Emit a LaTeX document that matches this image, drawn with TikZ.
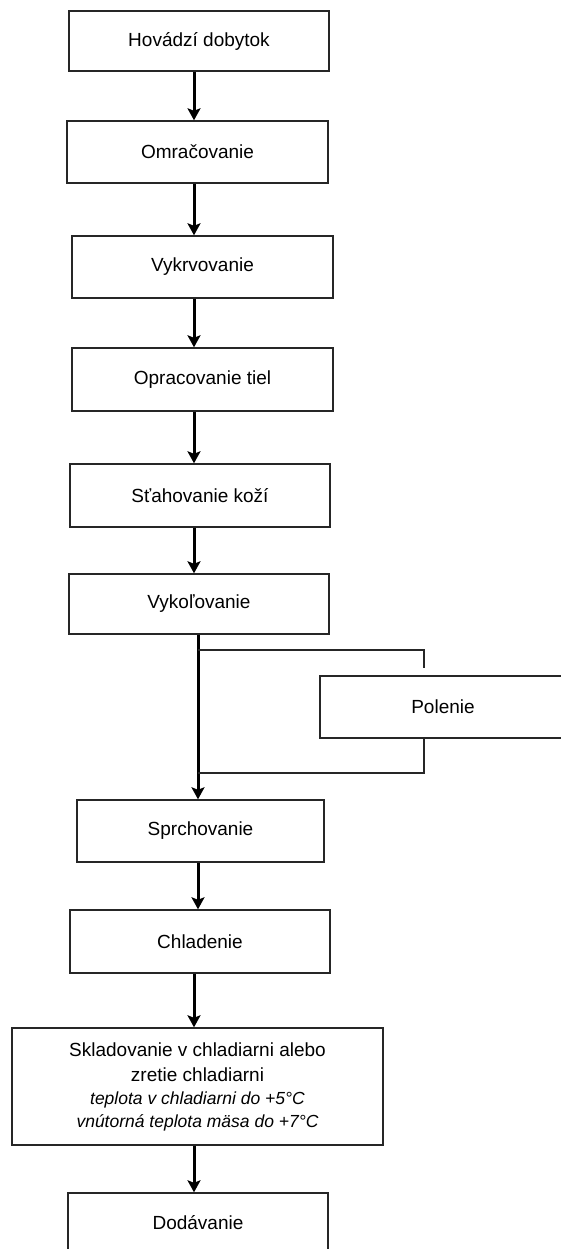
\documentclass[tikz,border=0pt]{standalone}
\usepackage{fontspec}
\setmainfont{Liberation Sans}
\usepackage{tikz}
\usetikzlibrary{arrows.meta, positioning, calc}

\begin{document}
\begin{tikzpicture}[
    x=1pt, y=-1pt,
    stepbox/.style={rectangle, draw=black!85, line width=1.4pt, minimum width=260pt, minimum height=62pt, inner sep=0pt, font=\fontsize{19}{26}\selectfont, align=center},
    arrow/.style={-{Stealth[length=12pt, width=13pt, inset=2.5pt]}, line width=3pt},
    branch/.style={line width=1.4pt, draw=black!85}
]
\useasboundingbox (0,0) rectangle (560,1249);

% Main chain
\node[stepbox, minimum height=60pt] (hov) at (199,41) {Hovádzí dobytok};
\node[stepbox, minimum width=261pt] (omr) at (197.5,152) {Omračovanie};
\node[stepbox, minimum width=261pt] (vykr) at (202.5,267) {Vykrvovanie};
\node[stepbox, minimum width=261pt, minimum height=63pt] (opr) at (202.5,379.5) {Opracovanie tiel};
\node[stepbox, minimum height=63pt] (stah) at (200,495.5) {Sťahovanie koží};
\node[stepbox, minimum height=60pt] (vykol) at (199,604) {Vykoľovanie};

% Side step
\node[stepbox, minimum width=246pt] (pol) at (443,707) {Polenie};

\node[stepbox, minimum width=247pt] (sprch) at (200.5,831) {Sprchovanie};
\node[stepbox, minimum height=63pt] (chlad) at (200,941.5) {Chladenie};
\node[stepbox, minimum width=371pt, minimum height=117pt] (sklad) at (197.5,1086.5)
    {Skladovanie v chladiarni alebo\\[-1pt] zretie chladiarni\\[-3pt]
     {\fontsize{17.5}{19}\selectfont\itshape teplota v chladiarni do +5°C}\\[-3pt]
     {\fontsize{17.5}{19}\selectfont\itshape vnútorná teplota mäsa do +7°C}};
\node[stepbox, minimum height=60pt] (dod) at (198,1223) {Dodávanie};

% Spine coordinates
\coordinate (spine) at (194,0);
\coordinate (spine2) at (198,0);
\coordinate (split) at (198,650);
\coordinate (join) at (198,773);

% Arrows
\draw[arrow] (hov.south -| spine) -- (omr.north -| spine);
\draw[arrow] (omr.south -| spine) -- (vykr.north -| spine);
\draw[arrow] (vykr.south -| spine) -- (opr.north -| spine);
\draw[arrow] (opr.south -| spine) -- (stah.north -| spine);
\draw[arrow] (stah.south -| spine) -- (vykol.north -| spine);
\draw[arrow] (vykol.south -| spine2) -- (sprch.north -| spine2);
\draw[arrow] (sprch.south -| spine2) -- (chlad.north -| spine2);
\draw[arrow] (chlad.south -| spine) -- (sklad.north -| spine);
\draw[arrow] (sklad.south -| spine) -- (dod.north -| spine);

% Branch to Polenie and back
\draw[branch] (split) -| ($(pol.north)+(-19,-7)$);
\draw[branch] ($(pol.south)+(-19,0)$) |- (join);

\end{tikzpicture}
\end{document}
